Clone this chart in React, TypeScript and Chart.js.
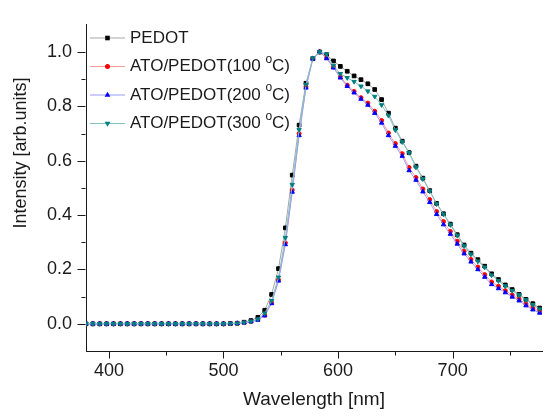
import React, { useEffect, useRef } from "react";
import { Chart, registerables } from "chart.js";

Chart.register(...registerables);

const FONT = '"Liberation Sans", Arial, Helvetica, sans-serif';

const wavelengths = [
  380, 386, 392, 398, 404, 410, 416, 422, 428, 434, 440, 446, 452, 458, 464, 470, 476, 482, 488, 494,
  500, 506, 512, 518, 524, 530, 536, 542, 548, 554, 560, 566, 572, 578, 584, 590, 596, 602, 608, 614,
  620, 626, 632, 638, 644, 650, 656, 662, 668, 674, 680, 686, 692, 698, 704, 710, 716, 722, 728, 734,
  740, 746, 752, 758, 764, 770, 776,
];

const pedot = [
  0, 0, 0, 0, 0, 0, 0, 0, 0, 0, 0, 0, 0, 0, 0, 0, 0, 0, 0, 0,
  0, 0.001, 0.002, 0.006, 0.012, 0.024, 0.05, 0.108, 0.203, 0.353, 0.547, 0.731, 0.885, 0.975, 1.0, 0.99, 0.967, 0.947, 0.929, 0.912,
  0.898, 0.883, 0.862, 0.825, 0.775, 0.72, 0.672, 0.63, 0.58, 0.536, 0.49, 0.443, 0.405, 0.367, 0.328, 0.29, 0.26, 0.236, 0.212, 0.184,
  0.163, 0.143, 0.126, 0.108, 0.09, 0.074, 0.058,
];

const ato100 = [
  0, 0, 0, 0, 0, 0, 0, 0, 0, 0, 0, 0, 0, 0, 0, 0, 0, 0, 0, 0,
  0, 0.001, 0.002, 0.004, 0.008, 0.015, 0.032, 0.078, 0.162, 0.298, 0.492, 0.7, 0.872, 0.977, 1.0, 0.98, 0.945, 0.91, 0.878, 0.855,
  0.832, 0.812, 0.782, 0.748, 0.702, 0.663, 0.626, 0.575, 0.538, 0.496, 0.457, 0.413, 0.376, 0.34, 0.304, 0.267, 0.237, 0.209, 0.181, 0.154,
  0.138, 0.122, 0.106, 0.091, 0.073, 0.058, 0.046,
];

const ato200 = [
  0, 0, 0, 0, 0, 0, 0, 0, 0, 0, 0, 0, 0, 0, 0, 0, 0, 0, 0, 0,
  0, 0.001, 0.002, 0.004, 0.008, 0.014, 0.03, 0.075, 0.158, 0.292, 0.485, 0.693, 0.868, 0.975, 1.0, 0.976, 0.942, 0.905, 0.874, 0.85,
  0.827, 0.805, 0.775, 0.739, 0.693, 0.654, 0.617, 0.564, 0.529, 0.486, 0.447, 0.403, 0.365, 0.33, 0.294, 0.258, 0.228, 0.2, 0.172, 0.145,
  0.13, 0.115, 0.099, 0.085, 0.067, 0.052, 0.04,
];

const ato300 = [
  0, 0, 0, 0, 0, 0, 0, 0, 0, 0, 0, 0, 0, 0, 0, 0, 0, 0, 0, 0,
  0, 0.001, 0.002, 0.005, 0.009, 0.017, 0.039, 0.085, 0.171, 0.317, 0.512, 0.714, 0.88, 0.978, 1.0, 0.992, 0.95, 0.92, 0.905, 0.891,
  0.874, 0.856, 0.836, 0.805, 0.766, 0.713, 0.669, 0.629, 0.576, 0.533, 0.488, 0.441, 0.403, 0.364, 0.325, 0.286, 0.256, 0.23, 0.208, 0.179,
  0.158, 0.139, 0.122, 0.106, 0.088, 0.07, 0.054,
];

const xTickValues = [400, 500, 600, 700];
const xMinorTickValues = [450, 550, 650, 750];
const yTickValues = [0, 0.2, 0.4, 0.6, 0.8, 1.0];
const yMinorTickValues = [0.1, 0.3, 0.5, 0.7, 0.9];

const seriesLabels = ["PEDOT", "ATO/PEDOT(100 °C)", "ATO/PEDOT(200 °C)", "ATO/PEDOT(300 °C)"];
const xTitle = "Wavelength [nm]";
const yTitle = "Intensity [arb.units]";

const markerColors = ["#000000", "#ff0000", "#0000ff", "#008080"];
const lineColors = ["#a8a8a8", "#ff9a9a", "#9a9aff", "#80c4c4"];
const markerKinds = ["square", "circle", "up", "down"];

function drawMarker(ctx: CanvasRenderingContext2D, kind: string, x: number, y: number, color: string) {
  ctx.fillStyle = color;
  ctx.beginPath();
  if (kind === "square") {
    ctx.rect(x - 2.3, y - 2.3, 4.6, 4.6);
  } else if (kind === "circle") {
    ctx.arc(x, y, 2.5, 0, Math.PI * 2);
  } else if (kind === "up") {
    ctx.moveTo(x, y - 3.2);
    ctx.lineTo(x + 2.9, y + 1.8);
    ctx.lineTo(x - 2.9, y + 1.8);
    ctx.closePath();
  } else {
    ctx.moveTo(x, y + 3.2);
    ctx.lineTo(x + 2.9, y - 1.8);
    ctx.lineTo(x - 2.9, y - 1.8);
    ctx.closePath();
  }
  ctx.fill();
}

const decorPlugin = {
  id: "decor",
  afterDraw(chart: any) {
    const ctx: CanvasRenderingContext2D = chart.ctx;
    const xs = chart.scales.x;
    const ys = chart.scales.y;
    const area = chart.chartArea;
    ctx.save();
    ctx.strokeStyle = "#1a1a1a";
    ctx.lineWidth = 1;
    const seg = (x1: number, y1: number, x2: number, y2: number) => {
      ctx.beginPath();
      ctx.moveTo(x1, y1);
      ctx.lineTo(x2, y2);
      ctx.stroke();
    };
    const b = Math.round(area.bottom) + 0.5;
    const l = Math.round(area.left) - 0.5;
    for (const v of xTickValues) {
      const px = Math.round(xs.getPixelForValue(v)) + 0.5;
      seg(px, b, px, b + 7);
    }
    for (const v of xMinorTickValues) {
      const px = Math.round(xs.getPixelForValue(v)) + 0.5;
      seg(px, b, px, b + 4);
    }
    for (const v of yTickValues) {
      const py = Math.round(ys.getPixelForValue(v)) + 0.5;
      seg(l, py, l - 8, py);
    }
    for (const v of yMinorTickValues) {
      const py = Math.round(ys.getPixelForValue(v)) + 0.5;
      seg(l, py, l - 4, py);
    }

    // legend
    const rowY = [38, 66.5, 95, 123.5];
    seriesLabels.forEach((label, i) => {
      const y = rowY[i];
      ctx.strokeStyle = lineColors[i];
      ctx.lineWidth = 1.2;
      seg(90, y, 125, y);
      drawMarker(ctx, markerKinds[i], 107.5, y, markerColors[i]);
      ctx.fillStyle = "#1a1a1a";
      ctx.textBaseline = "middle";
      ctx.textAlign = "left";
      ctx.font = `17px ${FONT}`;
      const parts = label.split("°");
      let x = 130;
      ctx.fillText(parts[0], x, y);
      if (parts.length > 1) {
        x += ctx.measureText(parts[0]).width;
        ctx.font = `12px ${FONT}`;
        ctx.fillText("o", x, y - 7);
        x += ctx.measureText("o").width;
        ctx.font = `17px ${FONT}`;
        ctx.fillText(parts[1], x, y);
      }
    });

    // axis titles
    ctx.fillStyle = "#1a1a1a";
    ctx.font = `19px ${FONT}`;
    ctx.textAlign = "center";
    ctx.textBaseline = "middle";
    ctx.fillText(xTitle, (area.left + area.right) / 2, 400);
    ctx.save();
    ctx.translate(21, 153);
    ctx.rotate(-Math.PI / 2);
    ctx.font = `18px ${FONT}`;
    ctx.fillText(yTitle, 0, 0);
    ctx.restore();
    ctx.restore();
  },
};

export default function App() {
  const canvasRef = useRef<HTMLCanvasElement | null>(null);

  useEffect(() => {
    const canvas = canvasRef.current;
    if (!canvas) return;
    const series = [pedot, ato100, ato200, ato300];
    const pointStyles = ["rect", "circle", "triangle", "triangle"];
    const radii = [2.6, 2.0, 2.5, 2.5];
    const rotations = [0, 0, 0, 180];
    const orders = [3, 2, 1, 0];
    const datasets = series.map((vals, i) => ({
      label: seriesLabels[i],
      data: wavelengths.map((w, k) => ({ x: w, y: vals[k] })),
      borderColor: lineColors[i],
      backgroundColor: markerColors[i],
      borderWidth: 1,
      pointStyle: pointStyles[i],
      pointRadius: radii[i],
      pointRotation: rotations[i],
      pointBackgroundColor: markerColors[i],
      pointBorderColor: markerColors[i],
      pointBorderWidth: 1,
      tension: 0,
      order: orders[i],
    }));

    const chart = new Chart(canvas, {
      type: "line",
      data: { datasets },
      options: {
        responsive: false,
        maintainAspectRatio: false,
        animation: false,
        events: [],
        layout: { padding: { top: 9, right: 0, left: 0, bottom: 0 } },
        plugins: {
          legend: { display: false },
          tooltip: { enabled: false },
        },
        scales: {
          x: {
            type: "linear",
            min: 380,
            max: 778,
            afterBuildTicks: (s: any) => {
              s.ticks = xTickValues.map((v) => ({ value: v }));
            },
            afterFit: (s: any) => {
              s.height = 65;
            },
            grid: { display: false, drawTicks: false },
            border: { display: true, color: "#1a1a1a", width: 1 },
            ticks: {
              font: { family: FONT, size: 18 },
              color: "#1a1a1a",
              padding: 9,
              maxRotation: 0,
              autoSkip: false,
              callback: (v: any) => String(v),
            },
          },
          y: {
            type: "linear",
            min: -0.1,
            max: 1.1,
            afterBuildTicks: (s: any) => {
              s.ticks = yTickValues.map((v) => ({ value: v }));
            },
            afterFit: (s: any) => {
              s.width = 86;
            },
            grid: { display: false, drawTicks: false },
            border: { display: true, color: "#1a1a1a", width: 1 },
            ticks: {
              font: { family: FONT, size: 18 },
              color: "#1a1a1a",
              padding: 14,
              autoSkip: false,
              callback: (v: any) => Number(v).toFixed(1),
            },
          },
        },
      },
      plugins: [decorPlugin],
    } as any);

    return () => {
      chart.destroy();
    };
  }, []);

  return (
    <div style={{ position: "absolute", left: 0, top: 0, width: 547, height: 416, background: "#fff" }}>
      <canvas ref={canvasRef} width={547} height={416} style={{ display: "block" }} />
    </div>
  );
}
